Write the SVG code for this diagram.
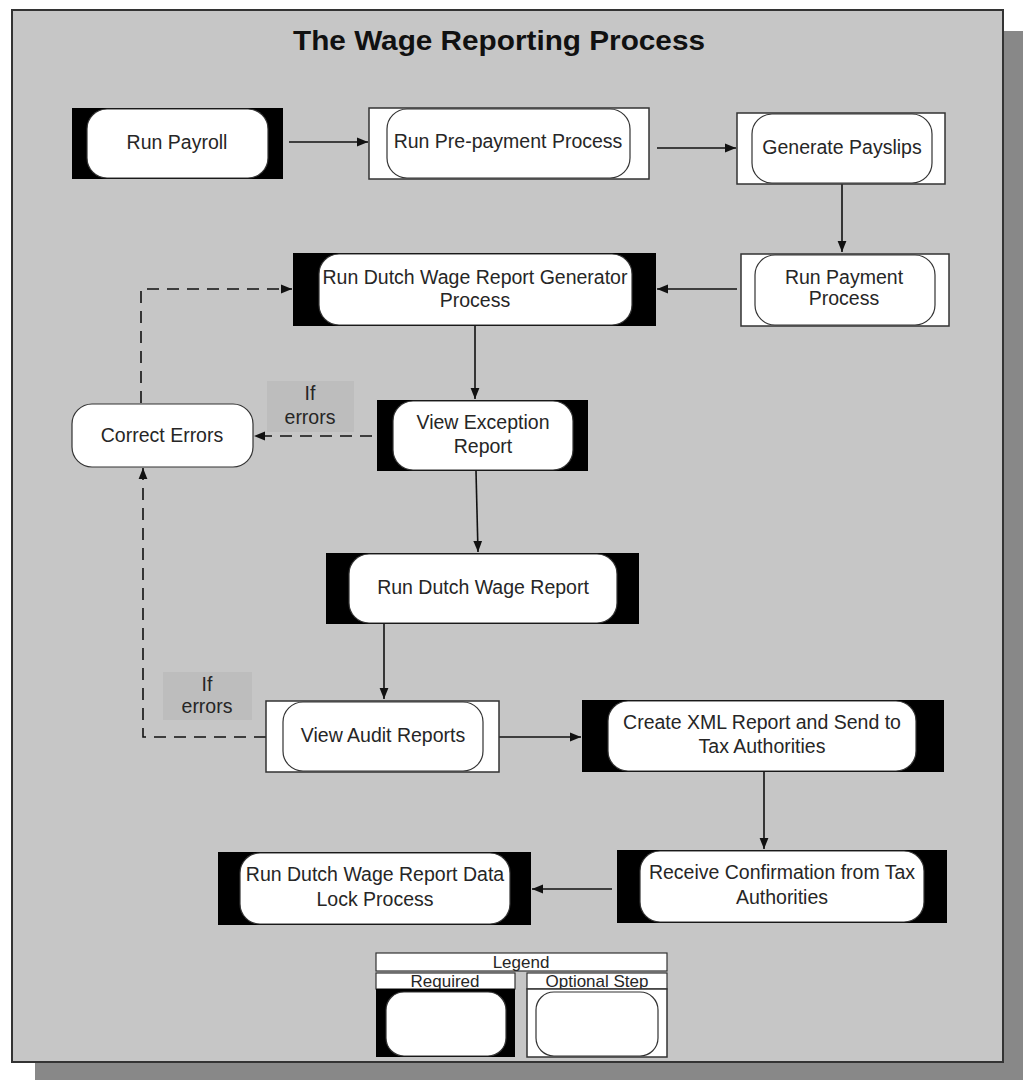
<svg xmlns="http://www.w3.org/2000/svg" width="1023" height="1080" viewBox="0 0 1023 1080">
<defs>
<style>
.t{font-family:"Liberation Sans",Arial,sans-serif;font-size:19.5px;fill:#262626;text-anchor:middle}
.lg{font-size:17px}
.req{fill:#000}
.opt{fill:#fff;stroke:#333;stroke-width:1.5}
.inr{fill:#fff;stroke:#333;stroke-width:1.2}
.c{fill:none;stroke:#111;stroke-width:1.6}
.d{fill:none;stroke:#111;stroke-width:1.6;stroke-dasharray:12 8}
.lbl{fill:#bdbdbd}
</style>
<marker id="ah" viewBox="0 0 10 10" refX="10" refY="5" markerWidth="11" markerHeight="11" markerUnits="userSpaceOnUse" orient="auto">
<path d="M0,1 L10,5 L0,9 Z" fill="#111"/>
</marker>
</defs>
<rect x="0" y="0" width="1023" height="1080" fill="#fff"/>
<rect x="35" y="31" width="988" height="1049" fill="#888"/>
<rect x="12" y="10" width="991" height="1052" fill="#c6c6c6" stroke="#333" stroke-width="2"/>
<text x="499" y="50" textLength="412" lengthAdjust="spacingAndGlyphs" style="font-family:'Liberation Sans',Arial,sans-serif;font-size:28px;font-weight:bold;fill:#111;text-anchor:middle">The Wage Reporting Process</text>

<g id="connectors">
<line class="c" x1="289" y1="142" x2="368" y2="142" marker-end="url(#ah)"/>
<line class="c" x1="657" y1="148" x2="736" y2="148" marker-end="url(#ah)"/>
<line class="c" x1="842" y1="184" x2="842" y2="252" marker-end="url(#ah)"/>
<line class="c" x1="737" y1="289" x2="657" y2="289" marker-end="url(#ah)"/>
<line class="c" x1="475" y1="326" x2="475" y2="399" marker-end="url(#ah)"/>
<line class="c" x1="476" y1="471" x2="478" y2="552" marker-end="url(#ah)"/>
<line class="c" x1="384" y1="624" x2="384" y2="699" marker-end="url(#ah)"/>
<line class="c" x1="499" y1="737" x2="581" y2="737" marker-end="url(#ah)"/>
<line class="c" x1="764" y1="772" x2="764" y2="849" marker-end="url(#ah)"/>
<line class="c" x1="612" y1="889" x2="532" y2="889" marker-end="url(#ah)"/>
<line class="d" x1="372" y1="436" x2="254" y2="436" marker-end="url(#ah)"/>
<polyline class="d" points="141,403 141,289 292,289" marker-end="url(#ah)"/>
<polyline class="d" points="266,737 143,737 143,468" marker-end="url(#ah)"/>
<rect class="lbl" x="267" y="381" width="87" height="51"/>
<text class="t" x="310" y="400">If</text>
<text class="t" x="310" y="424">errors</text>
<rect class="lbl" x="163" y="672" width="89" height="48"/>
<text class="t" x="207" y="691">If</text>
<text class="t" x="207" y="713">errors</text>
</g>

<g id="run-payroll">
<rect class="req" x="72" y="108" width="211" height="71"/>
<rect class="inr" x="87" y="109" width="181" height="69" rx="20"/>
<text class="t" x="177" y="149">Run Payroll</text>
</g>
<g id="run-prepayment">
<rect class="opt" x="369" y="108" width="280" height="71"/>
<rect class="inr" x="387" y="109" width="243" height="69" rx="20"/>
<text class="t" x="508" y="148">Run Pre-payment Process</text>
</g>
<g id="generate-payslips">
<rect class="opt" x="737" y="113" width="208" height="71"/>
<rect class="inr" x="752" y="114" width="180" height="69" rx="20"/>
<text class="t" x="842" y="154">Generate Payslips</text>
</g>
<g id="run-payment">
<rect class="opt" x="741" y="254" width="208" height="72"/>
<rect class="inr" x="755" y="255" width="180" height="70" rx="20"/>
<text class="t" x="844" y="284">Run Payment</text>
<text class="t" x="844" y="305">Process</text>
</g>
<g id="generator">
<rect class="req" x="293" y="253" width="363" height="73"/>
<rect class="inr" x="319" y="254" width="313" height="71" rx="20"/>
<text class="t" x="475" y="284">Run Dutch Wage Report Generator</text>
<text class="t" x="475" y="307">Process</text>
</g>
<g id="correct-errors">
<rect class="inr" x="72" y="404" width="181" height="63" rx="20"/>
<text class="t" x="162" y="442">Correct Errors</text>
</g>
<g id="view-exception">
<rect class="req" x="377" y="400" width="211" height="71"/>
<rect class="inr" x="393" y="401" width="180" height="69" rx="20"/>
<text class="t" x="483" y="429">View Exception</text>
<text class="t" x="483" y="453">Report</text>
</g>
<g id="run-dutch-wage-report">
<rect class="req" x="326" y="553" width="313" height="71"/>
<rect class="inr" x="349" y="554" width="268" height="69" rx="20"/>
<text class="t" x="483" y="594">Run Dutch Wage Report</text>
</g>
<g id="view-audit">
<rect class="opt" x="266" y="701" width="233" height="71"/>
<rect class="inr" x="283" y="702" width="200" height="69" rx="20"/>
<text class="t" x="383" y="742">View Audit Reports</text>
</g>
<g id="create-xml">
<rect class="req" x="582" y="700" width="362" height="72"/>
<rect class="inr" x="608" y="701" width="308" height="70" rx="20"/>
<text class="t" x="762" y="729">Create XML Report and Send to</text>
<text class="t" x="762" y="753">Tax Authorities</text>
</g>
<g id="receive-confirmation">
<rect class="req" x="617" y="850" width="330" height="73"/>
<rect class="inr" x="640" y="851" width="284" height="71" rx="20"/>
<text class="t" x="782" y="879">Receive Confirmation from Tax</text>
<text class="t" x="782" y="904">Authorities</text>
</g>
<g id="data-lock">
<rect class="req" x="218" y="852" width="313" height="73"/>
<rect class="inr" x="240" y="853" width="270" height="71" rx="20"/>
<text class="t" x="375" y="881">Run Dutch Wage Report Data</text>
<text class="t" x="375" y="906">Lock Process</text>
</g>

<g id="legend">
<rect x="376" y="953" width="291" height="18" fill="#fff" stroke="#333" stroke-width="1.2"/>
<text class="t lg" x="521" y="968">Legend</text>
<rect x="376" y="973" width="139" height="16" fill="#fff" stroke="#333" stroke-width="1.2"/>
<text class="t lg" x="445" y="987">Required</text>
<rect x="376" y="989" width="139" height="68" fill="#000"/>
<rect class="inr" x="386" y="992" width="120" height="64" rx="18"/>
<rect x="527" y="973" width="140" height="16" fill="#fff" stroke="#333" stroke-width="1.2"/>
<text class="t lg" x="597" y="987">Optional Step</text>
<rect class="opt" x="527" y="989" width="140" height="68"/>
<rect class="inr" x="536" y="992" width="122" height="64" rx="18"/>
</g>
</svg>
